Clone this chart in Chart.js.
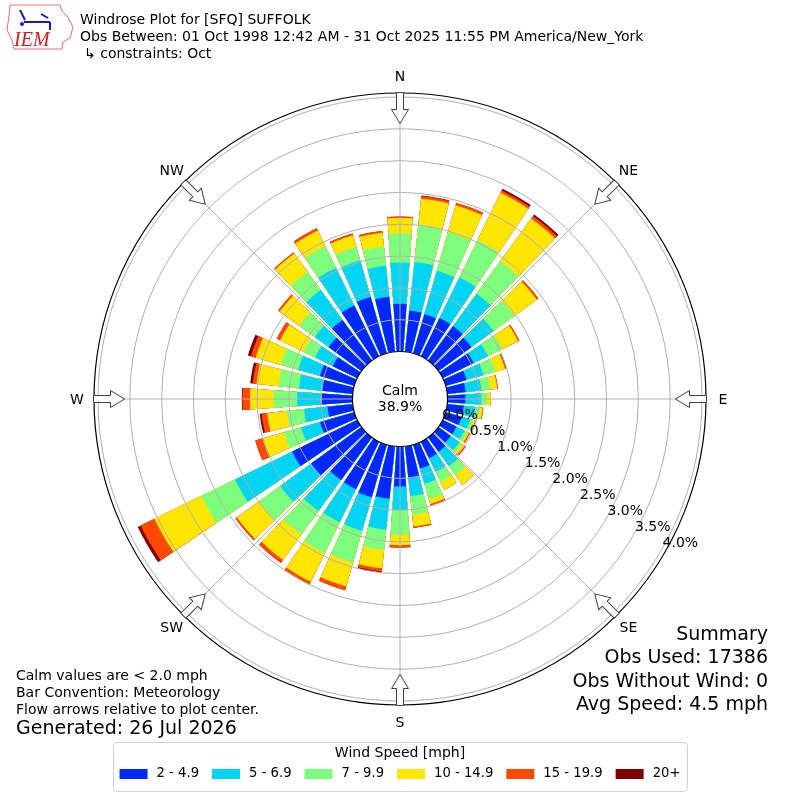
<!DOCTYPE html>
<html lang="en">
<head>
    <meta charset="UTF-8">
    <title>Windrose Plot for [SFQ] SUFFOLK</title>
    <script src="https://cdn.jsdelivr.net/npm/chart.js@4"></script>
    <style>
        html, body { margin: 0; padding: 0; background: #fff; }
        #wrap { width: 800px; height: 800px; }
    </style>
</head>
<body>
<div id="wrap"><canvas id="rose"></canvas></div>
<script>
// bar directions, degrees clockwise from north
const directions = [0, 10, 20, 30, 40, 50, 60, 70, 80, 90, 100, 110, 120, 130, 140, 150, 160, 170,
                    180, 190, 200, 210, 220, 230, 240, 250, 260, 270, 280, 290, 300, 310, 320, 330, 340, 350];

// percent of observations per direction, one array per speed bin
const pct2to5 = [0.75, 0.65, 0.64, 0.67, 0.67, 0.64, 0.54, 0.34, 0.29, 0.28, 0.26, 0.26, 0.24, 0.24, 0.28, 0.29, 0.39, 0.50,
                 0.63, 0.83, 0.86, 0.83, 0.83, 0.98, 1.14, 0.56, 0.40, 0.48, 0.48, 0.56, 0.43, 0.64, 0.79, 0.89, 0.92, 0.87];
const pct5to7 = [0.65, 0.77, 0.71, 0.71, 0.63, 0.43, 0.25, 0.28, 0.25, 0.25, 0.19, 0.14, 0.14, 0.17, 0.28, 0.24, 0.25, 0.29,
                 0.37, 0.49, 0.55, 0.58, 0.60, 0.60, 1.00, 0.31, 0.37, 0.39, 0.37, 0.36, 0.31, 0.27, 0.58, 0.66, 0.60, 0.49];
const pct7to10 = [0.46, 0.59, 0.63, 0.65, 0.63, 0.41, 0.25, 0.19, 0.14, 0.09, 0.06, 0.05, 0.05, 0.04, 0.17, 0.17, 0.25, 0.29,
                  0.39, 0.32, 0.52, 0.54, 0.46, 0.41, 0.59, 0.28, 0.27, 0.37, 0.32, 0.28, 0.20, 0.30, 0.35, 0.38, 0.22, 0.30];
const pct10to15 = [0.24, 0.41, 0.44, 0.83, 0.83, 0.43, 0.28, 0.16, 0.11, 0.06, 0.05, 0.03, 0.03, 0.06, 0.19, 0.14, 0.08, 0.19,
                   0.16, 0.29, 0.39, 0.50, 0.49, 0.43, 0.82, 0.34, 0.31, 0.37, 0.35, 0.41, 0.41, 0.38, 0.36, 0.27, 0.19, 0.22];
const pct15to20 = [0.02, 0.04, 0.04, 0.04, 0.05, 0.03, 0.02, 0.02, 0.01, 0.00, 0.01, 0.01, 0.02, 0.02, 0.00, 0.00, 0.03, 0.02,
                   0.03, 0.05, 0.06, 0.05, 0.06, 0.03, 0.24, 0.13, 0.09, 0.12, 0.06, 0.08, 0.06, 0.03, 0.02, 0.04, 0.03, 0.03];
const pct20up = [0.00, 0.01, 0.00, 0.03, 0.03, 0.00, 0.00, 0.00, 0.00, 0.00, 0.00, 0.00, 0.00, 0.00, 0.00, 0.00, 0.00, 0.00,
                 0.01, 0.02, 0.00, 0.00, 0.00, 0.00, 0.05, 0.00, 0.03, 0.01, 0.04, 0.05, 0.00, 0.00, 0.00, 0.00, 0.00, 0.00];

const binLabels = ['2 - 4.9', '5 - 6.9', '7 - 9.9', '10 - 14.9', '15 - 19.9', '20+'];
const binColors = ['#0028ff', '#00d4f5', '#7dff7d', '#ffe600', '#ff4800', '#800000'];

// radial percent rings / labels
const radialTicks = [0.0, 0.5, 1.0, 1.5, 2.0, 2.5, 3.0, 3.5, 4.0];
const compassLabels = ['N', 'NE', 'E', 'SE', 'S', 'SW', 'W', 'NW'];

const calmPct = '38.9%';
const titleLines = ['Windrose Plot for [SFQ] SUFFOLK',
                    'Obs Between: 01 Oct 1998 12:42 AM - 31 Oct 2025 11:55 PM America/New_York',
                    '\u21b3 constraints: Oct'];
const noteLines = ['Calm values are < 2.0 mph', 'Bar Convention: Meteorology', 'Flow arrows relative to plot center.'];
const generatedText = 'Generated: 26 Jul 2026';
const summaryLines = ['Summary', 'Obs Used: 17386', 'Obs Without Wind: 0', 'Avg Speed: 4.5 mph'];

const FONT = "'DejaVu Sans', sans-serif";
const BAR_DEG = 8;   // bar opening
const GAP_DEG = 2;   // white gap between bars
const R_MIN = -0.747; // leaves room for the calm circle
const R_MAX = 4.063;

// stacked bars: each dataset holds the running total, drawn largest first.
// every direction is followed by an empty slot that makes the gap.
const barLabels = [];
directions.forEach(d => { barLabels.push(d + '\u00b0'); barLabels.push(''); });
const bins = [pct2to5, pct5to7, pct7to10, pct10to15, pct15to20, pct20up];
let running = directions.map(() => 0);
const datasets = bins.map((bin, k) => {
    running = running.map((v, i) => v + bin[i]);
    const data = [];
    running.forEach(v => { data.push(+v.toFixed(3)); data.push(0); });
    return {
        label: binLabels[k],
        data: data,
        backgroundColor: c => (c.dataIndex % 2 ? 'rgba(0,0,0,0)' : binColors[k]),
        borderWidth: 0,
        angle: c => (c.dataIndex % 2 ? GAP_DEG : BAR_DEG)
    };
});

function polarPt(scale, bearing, r) {
    const a = (bearing - 90) * Math.PI / 180;
    return [scale.xCenter + Math.cos(a) * r, scale.yCenter + Math.sin(a) * r];
}

function drawArrow(ctx, scale, bearing) {
    const tail = -(scale.drawingArea + 0.5);
    const tip = tail + 31;
    const headBase = tip - 14;
    ctx.save();
    ctx.translate(scale.xCenter, scale.yCenter);
    ctx.rotate(bearing * Math.PI / 180);
    ctx.beginPath();
    ctx.moveTo(-3.5, tail);
    ctx.lineTo(3.5, tail);
    ctx.lineTo(3.5, headBase);
    ctx.lineTo(8.5, headBase);
    ctx.lineTo(0, tip);
    ctx.lineTo(-8.5, headBase);
    ctx.lineTo(-3.5, headBase);
    ctx.closePath();
    ctx.fillStyle = '#fff';
    ctx.fill();
    ctx.strokeStyle = '#404040';
    ctx.lineWidth = 1;
    ctx.stroke();
    ctx.restore();
}

function drawLogo(ctx) {
    ctx.save();
    ctx.strokeStyle = '#e07070';
    ctx.lineWidth = 1;
    ctx.beginPath();
    const outline = [[10, 5], [60, 5], [62, 11], [67, 16], [73, 27], [70, 38], [63, 42], [62, 49], [14, 49], [12, 40], [7, 30], [9, 16]];
    outline.forEach((p, i) => (i ? ctx.lineTo(p[0], p[1]) : ctx.moveTo(p[0], p[1])));
    ctx.closePath();
    ctx.stroke();
    ctx.strokeStyle = '#1a1acc';
    ctx.fillStyle = '#1a1acc';
    ctx.lineWidth = 2;
    ctx.beginPath();
    ctx.moveTo(20, 10); ctx.lineTo(25, 20);
    ctx.moveTo(24, 22); ctx.lineTo(50, 22);
    ctx.moveTo(41, 14); ctx.lineTo(48, 18);
    ctx.moveTo(50, 22); ctx.lineTo(50, 30);
    ctx.stroke();
    ctx.beginPath(); ctx.arc(22, 24, 2, 0, Math.PI * 2); ctx.fill();
    ctx.fillStyle = '#cc2020';
    ctx.font = "italic 20px 'Liberation Serif', serif";
    ctx.textAlign = 'left';
    ctx.textBaseline = 'alphabetic';
    ctx.fillText('IEM', 14, 46);
    ctx.restore();
}

function drawLegend(chart) {
    const ctx = chart.ctx;
    const box = { left: 113, top: 742, right: 687, bottom: 791 };
    ctx.save();
    ctx.fillStyle = '#fff';
    ctx.strokeStyle = '#d0d0d0';
    ctx.lineWidth = 1;
    ctx.beginPath();
    ctx.roundRect(box.left + 0.5, box.top + 0.5, box.right - box.left, box.bottom - box.top, 4);
    ctx.fill();
    ctx.stroke();

    ctx.fillStyle = '#000';
    ctx.font = '14px ' + FONT;
    ctx.textAlign = 'center';
    ctx.textBaseline = 'middle';
    ctx.fillText('Wind Speed [mph]', (box.left + box.right) / 2, 753);

    ctx.font = '13.2px ' + FONT;
    const patchW = 28, patchH = 10, pad = 9, colGap = 13;
    const items = chart.data.datasets.map(ds => ({ text: ds.label, w: ctx.measureText(ds.label).width }));
    const total = items.reduce((s, it) => s + patchW + pad + it.w, 0) + colGap * (items.length - 1);
    let x = (box.left + box.right) / 2 - total / 2;
    ctx.textAlign = 'left';
    items.forEach((it, k) => {
        ctx.fillStyle = binColors[k];
        ctx.fillRect(x, 774 - patchH / 2, patchW, patchH);
        ctx.fillStyle = '#000';
        ctx.fillText(it.text, x + patchW + pad, 774);
        x += patchW + pad + it.w + colGap;
    });
    ctx.restore();
}

const roseDecor = {
    id: 'roseDecor',
    beforeDraw(chart) {
        const ctx = chart.ctx;
        ctx.save();
        ctx.fillStyle = '#fff';
        ctx.fillRect(0, 0, chart.width, chart.height);
        ctx.restore();
    },
    afterDatasetsDraw(chart) {
        // angle lines every 45 degrees, over the bars
        const scale = chart.scales.r;
        const ctx = chart.ctx;
        ctx.save();
        ctx.strokeStyle = '#b0b0b0';
        ctx.lineWidth = 1;
        for (let b = 0; b < 360; b += 45) {
            const p = polarPt(scale, b, scale.drawingArea);
            ctx.beginPath();
            ctx.moveTo(scale.xCenter, scale.yCenter);
            ctx.lineTo(p[0], p[1]);
            ctx.stroke();
        }
        ctx.restore();
    },
    afterDraw(chart) {
        const scale = chart.scales.r;
        const ctx = chart.ctx;
        const cx = scale.xCenter, cy = scale.yCenter;
        ctx.save();

        // outer frame
        ctx.strokeStyle = '#000';
        ctx.lineWidth = 1.2;
        ctx.beginPath();
        ctx.arc(cx, cy, scale.drawingArea, 0, Math.PI * 2);
        ctx.stroke();

        // calm circle
        const r0 = scale.getDistanceFromCenterForValue(0);
        ctx.beginPath();
        ctx.arc(cx, cy, r0, 0, Math.PI * 2);
        ctx.fillStyle = '#fff';
        ctx.fill();
        ctx.stroke();
        ctx.fillStyle = '#000';
        ctx.font = '14px ' + FONT;
        ctx.textAlign = 'center';
        ctx.textBaseline = 'middle';
        ctx.fillText('Calm', cx, cy - 8);
        ctx.fillText(calmPct, cx, cy + 8);

        // percent labels along bearing 120
        ctx.textAlign = 'left';
        ctx.textBaseline = 'bottom';
        radialTicks.forEach(v => {
            const p = polarPt(scale, 120, scale.getDistanceFromCenterForValue(v));
            ctx.fillText(v.toFixed(1) + '%', p[0] + 1, p[1]);
        });

        // flow arrows and compass labels
        compassLabels.forEach((lab, i) => {
            const b = i * 45;
            drawArrow(ctx, scale, b);
            const p = polarPt(scale, b, scale.drawingArea + 17);
            ctx.fillStyle = '#000';
            ctx.font = '14px ' + FONT;
            ctx.textAlign = 'center';
            ctx.textBaseline = 'middle';
            ctx.fillText(lab, p[0], p[1] + 1);
        });

        // header
        drawLogo(ctx);
        ctx.fillStyle = '#000';
        ctx.font = '14px ' + FONT;
        ctx.textAlign = 'left';
        ctx.textBaseline = 'middle';
        ctx.fillText(titleLines[0], 80, 20);
        ctx.fillText(titleLines[1], 80, 37);
        ctx.fillText(titleLines[2], 84, 54);

        // notes, bottom left
        noteLines.forEach((t, i) => ctx.fillText(t, 16, 676 + i * 17));
        ctx.font = '19px ' + FONT;
        ctx.fillText(generatedText, 16, 729);

        // summary, bottom right
        ctx.textAlign = 'right';
        summaryLines.forEach((t, i) => ctx.fillText(t, 768, 635 + i * 23.3));
        ctx.restore();

        drawLegend(chart);
    }
};

Chart.defaults.font.family = FONT;

new Chart(document.getElementById('rose'), {
    type: 'polarArea',
    data: { labels: barLabels, datasets: datasets },
    options: {
        responsive: true,
        maintainAspectRatio: false,
        animation: false,
        layout: { padding: { left: 94, right: 94, top: 93, bottom: 95 } },
        scales: {
            r: {
                min: R_MIN,
                max: R_MAX,
                startAngle: -BAR_DEG / 2,
                afterBuildTicks: s => { s.ticks = radialTicks.map(v => ({ value: v })); },
                ticks: { display: false },
                grid: { color: '#b0b0b0', lineWidth: 1, circular: true, z: 1 },
                angleLines: { display: false },
                pointLabels: { display: false }
            }
        },
        plugins: {
            legend: { display: false },
            tooltip: { enabled: false }
        }
    },
    plugins: [roseDecor]
});
</script>
</body>
</html>
